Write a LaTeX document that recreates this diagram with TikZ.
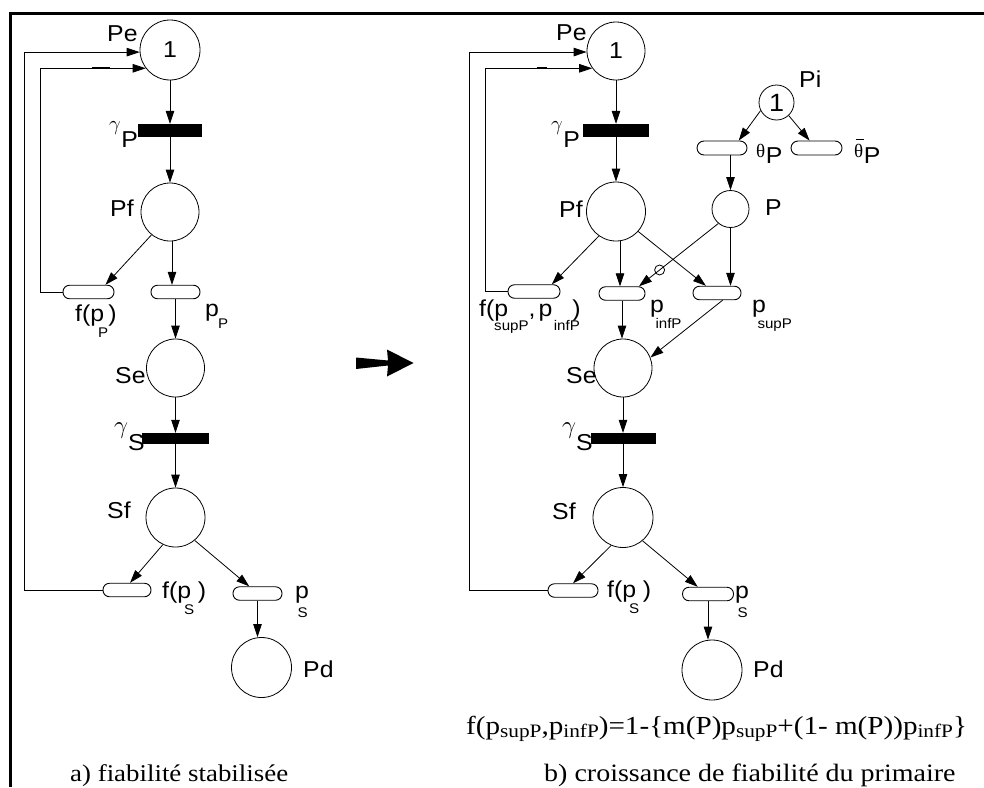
\documentclass[tikz,border=0pt]{standalone}
\usepackage{fontspec}
\setmainfont[FakeStretch=1.12]{Liberation Serif}
\newfontfamily\hv[FakeStretch=1.08]{Liberation Sans}
\newfontfamily\tms{Liberation Serif}
\usetikzlibrary{arrows.meta}
\newcommand{\fsz}[1]{\fontsize{#1}{#1}\selectfont}
\newcommand{\lsub}[2]{\raisebox{-#1}{\fsz{14}#2}}
\newcommand{\fsub}[1]{\raisebox{-3pt}{\fsz{19}#1}}
\begin{document}
\begin{tikzpicture}[x=1pt,y=-1pt,
  place/.style={circle, draw, line width=0.8pt, inner sep=0pt, font=\hv\fsz{23}},
  trans/.style={rectangle, fill=black, inner sep=0pt},
  pill/.style={rectangle, draw, line width=0.9pt, rounded corners=6.5pt, inner sep=0pt, minimum height=13.5pt},
  arr/.style={-{Triangle[length=13pt,width=8.5pt]}, line width=0.8pt},
  lbl/.style={font=\hv\fsz{23}, inner sep=0pt, anchor=base west},
  captxt/.style={font=\fsz{25}, inner sep=0pt, anchor=base west}]
\useasboundingbox (0,0) rectangle (984,787);
% frame
\draw[line width=3pt] (10,787) -- (10,13.5) -- (984,13.5);

% ===== left net =====
\node[place, minimum size=60pt] (LPe) at (170,50) {1};
\node[trans, minimum width=64pt, minimum height=13pt] (LgP) at (170,130.5) {};
\node[place, minimum size=58pt] (LPf) at (170,212) {};
\node[pill, minimum width=51pt] (LfP) at (88.5,292) {};
\node[pill, minimum width=49pt] (LpP) at (175.5,292) {};
\node[place, minimum size=58pt] (LSe) at (175.5,368) {};
\node[trans, minimum width=67pt, minimum height=11pt] (LgS) at (175.5,438.5) {};
\node[place, minimum size=59pt] (LSf) at (175.5,517.5) {};
\node[pill, minimum width=48pt] (LfS) at (127,590) {};
\node[pill, minimum width=49pt] (LpS) at (257.5,593.5) {};
\node[place, minimum size=60pt] (LPd) at (261.5,667.5) {};

\node[lbl] (LPeL) at (107,41) {Pe};
\node[lbl] (LPfL) at (110,216) {Pf};
\node[lbl] (LSeL) at (115,383) {Se};
\node[lbl] (LSfL) at (107,518) {Sf};
\node[lbl] (LPdL) at (303,677) {Pd};
\node[lbl] (LgPL) at (109,147) {\raisebox{16.5pt}{\fsz{20}$\gamma$}\kern0.5pt P};
\node[lbl] (LgSL) at (114,450) {\raisebox{16.7pt}{\fsz{24}$\gamma$}S};
\node[lbl] (LfPL) at (75,321) {f(p\kern-6pt\lsub{16pt}{P})};
\node[lbl] (LpPL) at (205,316.5) {p\kern-1pt\lsub{11.5pt}{P}};
\node[lbl] (LfSL) at (162,598) {f(p\kern-7pt\lsub{16pt}{S}\kern3.5pt)};
\node[lbl] (LpSL) at (295,598.5) {p\kern-11.5pt\lsub{18.5pt}{S}};

\coordinate (LxP) at (172,260);
\draw[arr] (LPe.south) -- (LgP.north);
\draw[arr] (LgP.south) -- (LPf.north);
\draw[arr] (LPf.231) -- (LfP.23);
\draw[arr] (LxP |- LPf.south) -- (LxP |- LpP.north);
\draw[arr] (LpP.south) -- (LpP.south |- LSe.north);
\draw[arr] (LSe.south) -- (LgS.north);
\draw[arr] (LgS.south) -- (LSf.north);
\draw[arr] (LSf.245) -- (LfS.67);
\draw[arr] (LSf.310) -- (LpS.139);
\draw[arr] (LpS.south) -- (LpS.south |- LPd.north);
\draw[arr] (LfP.west) -- ++(-22.3,0) |- (LPe.217);
\draw[arr] (LfS.west) -- ++(-78,0) |- (LPe.184);
\draw[line width=1.6pt] (92,68) -- (110,68);

% ===== big arrow =====
\fill (356,357.5) -- (388,360.5) -- (387,349.5) -- (413.5,363) -- (387,376.5) -- (388,365.5) -- (356,369) -- cycle;

% ===== right net =====
\node[place, minimum size=58pt] (RPe) at (616,51) {1};
\node[trans, minimum width=66pt, minimum height=13pt] (RgP) at (616,130.5) {};
\node[place, minimum size=59pt] (RPf) at (616,211.5) {};
\node[pill, minimum width=52pt] (RfP) at (534,291.5) {};
\node[pill, minimum width=46pt] (RpI) at (622,293.5) {};
\node[pill, minimum width=48pt] (RpS) at (717,293) {};
\node[place, minimum size=35pt, font=\hv\fsz{25}] (RPi) at (776.5,102.5) {1};
\node[pill, minimum width=50pt, minimum height=14pt, rounded corners=7pt] (RtP) at (722,148) {};
\node[pill, minimum width=51pt, minimum height=14pt, rounded corners=7pt] (RtB) at (816.5,148) {};
\node[place, minimum size=37pt] (RP) at (730.5,209) {};
\node[place, minimum size=58pt] (RSe) at (623,368) {};
\node[trans, minimum width=65pt, minimum height=11pt] (RgS) at (623,438.5) {};
\node[place, minimum size=60pt] (RSf) at (623,517.5) {};
\node[pill, minimum width=50pt] (RfS) at (573,590.5) {};
\node[pill, minimum width=51pt] (RpS2) at (708,594) {};
\node[place, minimum size=60pt] (RPd) at (712,670) {};

\node[lbl] (RPeL) at (556,40) {Pe};
\node[lbl] (RPfL) at (559,217) {Pf};
\node[lbl] (RSeL) at (566,383) {Se};
\node[lbl] (RSfL) at (552,519) {Sf};
\node[lbl] (RPdL) at (753,677) {Pd};
\node[lbl] (RPiL) at (799,87) {Pi};
\node[lbl] (RPL) at (765,215) {P};
\node[lbl] (RgPL) at (551,147) {\raisebox{16.5pt}{\fsz{20}$\gamma$}\kern0.5pt P};
\node[lbl] (RgSL) at (562,450) {\raisebox{16.7pt}{\fsz{24}$\gamma$}S};
\node[lbl] (RtPL) at (756,163) {\raisebox{6pt}{\tms\fsz{19}θ}\kern0.5pt P};
\node[lbl] (RtBL) at (854,163) {\raisebox{6pt}{\tms\fsz{19}\rlap{\kern1.5pt\rule[17pt]{8pt}{0.9pt}}θ}\kern0.5pt P};
\node[lbl] (RfPL) at (479,316) {f(p\kern-14pt\lsub{14pt}{supP},\kern3pt p\kern1.5pt\lsub{14pt}{infP}\kern-7.5pt)};
\node[lbl] (RpIL) at (650,312.5) {p\kern-8.5pt\lsub{16pt}{infP}};
\node[lbl] (RpSL) at (752,312.5) {p\kern-8.5pt\lsub{16pt}{supP}};
\node[lbl] (RfSL) at (607,597) {f(p\kern-7pt\lsub{16pt}{S}\kern3.5pt)};
\node[lbl] (RpS2L) at (735,598.5) {p\kern-11.5pt\lsub{18.5pt}{S}};

\coordinate (RxI) at (620,260);
\draw[arr] (RPe.south) -- (RgP.north);
\draw[arr] (RgP.south) -- (RPf.north);
\draw[arr] (RPf.235) -- (RfP.22);
\draw[arr] (RxI |- RPf.south) -- (RxI |- RpI.north);
\draw[arr] (RPf.318) -- (RpS.147);
\draw[arr] (RP.230) -- node[pos=0.74, circle, draw, line width=0.8pt, minimum size=10pt, inner sep=0pt] (inh) {} (RpI.23);
\draw[arr] (RP.south) -- (RP.south |- RpS.north);
\draw[arr] (RP.north |- RtP.south) -- (RP.north);
\draw[arr] (RPi.207) -- (RtP.24);
\draw[arr] (RPi.313) -- (RtB.133);
\draw[arr] (RpS.308) -- (RSe.21);
\draw[arr] (RpI.south) -- (RpI.south |- RSe.north);
\draw[arr] (RSe.south) -- (RgS.north);
\draw[arr] (RgS.south) -- (RSf.north);
\draw[arr] (RSf.247) -- (RfS.north);
\draw[arr] (RSf.310) -- (RpS2.145);
\draw[arr] (RpS2.south) -- (RpS2.south |- RPd.north);
\draw[arr] (RfP.west) -- ++(-22,0) |- (RPe.216);
\draw[arr] (RfS.west) -- ++(-78,0) |- (RPe.182);
\draw[line width=1.6pt] (537,68) -- (547,68);

% ===== formula and captions =====
\node[anchor=base west, inner sep=0pt, font=\fsz{26}] (formula) at (466,734)
  {f(p\fsub{supP},p\fsub{infP})=1-\{m(P)p\fsub{supP}+(1- m(P))p\fsub{infP}\}};
\node[captxt, font=\fsz{24}] (capA) at (70,781) {a) fiabilité stabilisée};
\node[captxt] (capB) at (544,781) {b) croissance de fiabilité du primaire};
\end{tikzpicture}
\end{document}
